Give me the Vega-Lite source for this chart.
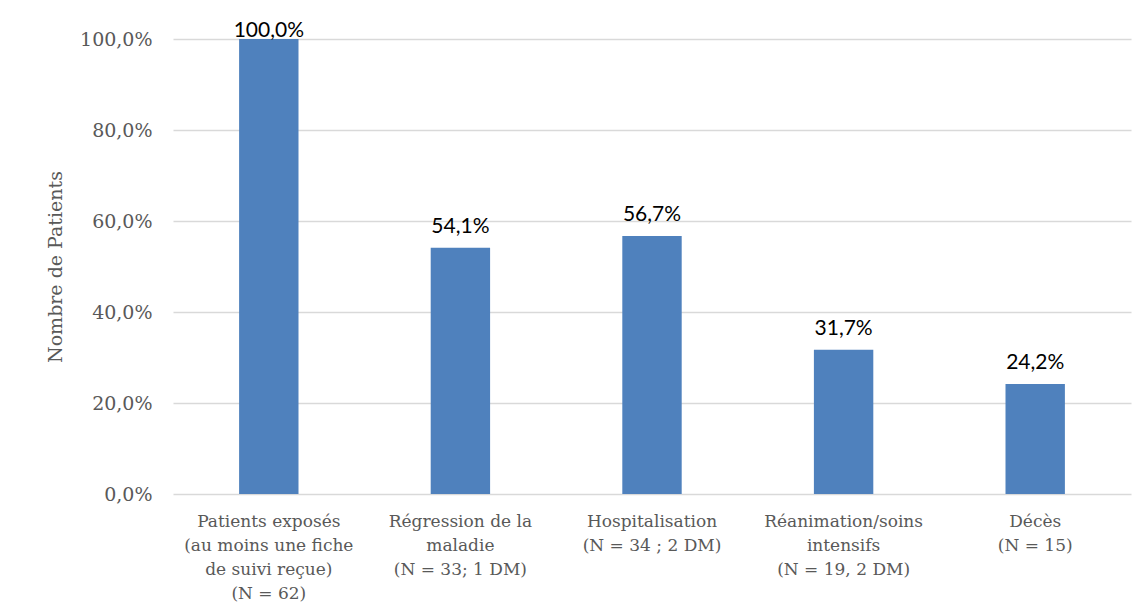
{
  "$schema": "https://vega.github.io/schema/vega-lite/v6.json",
  "width": 958,
  "height": 455,
  "autosize": {"type": "none"},
  "padding": {"left": 173, "top": 39, "right": 14, "bottom": 119},
  "background": "white",
  "config": {"view": {"stroke": null}},
  "data": {
    "values": [
      {"categorie": "Patients exposés|(au moins une fiche|de suivi reçue)|(N = 62)", "pct": 100.0},
      {"categorie": "Régression de la|maladie|(N = 33; 1 DM)", "pct": 54.1},
      {"categorie": "Hospitalisation|(N = 34 ; 2 DM)", "pct": 56.7},
      {"categorie": "Réanimation/soins|intensifs|(N = 19, 2 DM)", "pct": 31.7},
      {"categorie": "Décès|(N = 15)", "pct": 24.2}
    ]
  },
  "transform": [
    {"calculate": "replace(format(datum.pct, '.1f'), '.', ',') + '%'", "as": "etiquette"}
  ],
  "encoding": {
    "x": {
      "field": "categorie",
      "type": "nominal",
      "sort": null,
      "scale": {"paddingInner": 0.69, "paddingOuter": 0.345},
      "axis": {
        "title": null,
        "labelAngle": 0,
        "labelExpr": "split(datum.label, '|')",
        "labelFont": "DejaVu Serif",
        "labelFontSize": 17,
        "labelLineHeight": 24,
        "labelColor": "#595959",
        "labelPadding": 19,
        "labelLimit": 300,
        "ticks": false,
        "domain": false
      }
    },
    "y": {
      "field": "pct",
      "type": "quantitative",
      "scale": {"domain": [0, 100], "nice": false},
      "axis": {
        "title": "Nombre de Patients",
        "titleFont": "DejaVu Serif",
        "titleFontSize": 19,
        "titleFontWeight": "normal",
        "titleColor": "#595959",
        "titlePadding": 14,
        "values": [0, 20, 40, 60, 80, 100],
        "labelExpr": "replace(format(datum.value, '.1f'), '.', ',') + '%'",
        "labelFont": "DejaVu Serif",
        "labelFontSize": 19,
        "labelColor": "#595959",
        "labelPadding": 21,
        "ticks": false,
        "domain": false,
        "grid": true,
        "gridColor": "#d9d9d9",
        "gridWidth": 1.6
      }
    }
  },
  "layer": [
    {"mark": {"type": "bar", "color": "#4f81bd"}},
    {
      "transform": [{"filter": "datum.pct < 100"}],
      "mark": {"type": "text", "font": "Lato", "fontSize": 21, "color": "#000000", "baseline": "alphabetic", "dy": -15},
      "encoding": {"text": {"field": "etiquette"}}
    },
    {
      "transform": [{"filter": "datum.pct >= 100"}],
      "mark": {"type": "text", "font": "Lato", "fontSize": 21, "color": "#000000", "baseline": "alphabetic", "dy": -2},
      "encoding": {"text": {"field": "etiquette"}}
    }
  ]
}
